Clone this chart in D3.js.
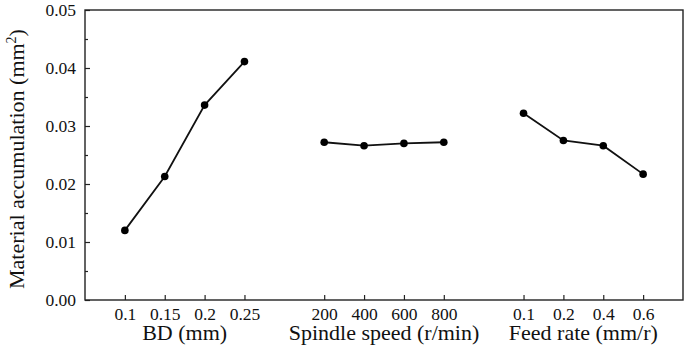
<!DOCTYPE html>
<html>
<head>
<meta charset="utf-8">
<script src="https://cdn.jsdelivr.net/npm/d3@7"></script>
<style>
  body { margin: 0; background: #fff; }
  svg text { font-family: "Liberation Serif", "Times New Roman", Times, serif; fill: #111; }
</style>
</head>
<body>
<div id="chart"></div>
<script>
// factor levels (tick labels) and mean material accumulation
const bdLevels = ["0.1", "0.15", "0.2", "0.25"];
const bdValues = [0.0120, 0.0213, 0.0336, 0.0411];
const speedLevels = ["200", "400", "600", "800"];
const speedValues = [0.0272, 0.0266, 0.0270, 0.0272];
const feedLevels = ["0.1", "0.2", "0.4", "0.6"];
const feedValues = [0.0322, 0.0275, 0.0266, 0.0217];
const factorNames = ["BD (mm)", "Spindle speed (r/min)", "Feed rate (mm/r)"];
const yTicks = [0, 0.01, 0.02, 0.03, 0.04, 0.05];

const serif = '"Liberation Serif", "Times New Roman", Times, serif';
const width = 685, height = 352;
const margin = {top: 10, right: 2, bottom: 52, left: 85};
const w = width - margin.left - margin.right;
const h = height - margin.top - margin.bottom;

// each factor gets 4 slots, with one empty slot between groups
const groups = [
  {name: factorNames[0], levels: bdLevels, values: bdValues},
  {name: factorNames[1], levels: speedLevels, values: speedValues},
  {name: factorNames[2], levels: feedLevels, values: feedValues}
];
groups.forEach((g, gi) => {
  g.points = g.values.map((v, i) => ({slot: gi * 5 + i, label: g.levels[i], value: v}));
});
const allPoints = groups.flatMap(g => g.points);

const svg = d3.select("#chart").append("svg")
  .attr("width", width)
  .attr("height", height);

const chart = svg.append("g")
  .attr("transform", `translate(${margin.left},${margin.top})`);

const x = d3.scaleLinear().domain([-1, 14]).range([0, w]);
const y = d3.scaleLinear().domain([0, 0.05]).range([h, 0]);

// y axis, inward ticks
chart.append("g")
  .call(d3.axisLeft(y).tickValues(yTicks).tickFormat(d3.format(".2f")).tickSize(-5).tickPadding(9));
chart.append("g")
  .call(d3.axisLeft(y).tickValues(d3.range(0.005, 0.05, 0.01)).tickSize(-3).tickFormat(""));

// x axis
chart.append("g")
  .attr("transform", `translate(0,${h})`)
  .call(d3.axisBottom(x)
    .tickValues(allPoints.map(d => d.slot))
    .tickFormat((d, i) => allPoints[i].label)
    .tickSize(-5).tickPadding(8));

chart.selectAll(".domain").remove();
chart.selectAll(".tick line").attr("stroke", "#222").attr("stroke-width", 1.2);
chart.selectAll(".tick text")
  .style("font-family", serif)
  .style("font-size", "17.5px")
  .attr("fill", "#111");

// frame
chart.append("rect")
  .attr("width", w).attr("height", h)
  .attr("fill", "none").attr("stroke", "#222").attr("stroke-width", 1.4);

// factor titles under each group
chart.selectAll(".factor-title")
  .data(groups)
  .enter().append("text")
    .attr("class", "factor-title")
    .attr("text-anchor", "middle")
    .attr("x", (d, i) => x(i * 5 + 1.5))
    .attr("y", h + 40)
    .style("font-family", serif)
    .style("font-size", "22px")
    .text(d => d.name);

// y title
const yTitle = chart.append("text")
  .attr("text-anchor", "middle")
  .attr("transform", `translate(${-margin.left + 24},${h / 2 + 4}) rotate(-90)`)
  .style("font-family", serif)
  .style("font-size", "22px");
yTitle.append("tspan").text("Material accumulation (mm");
yTitle.append("tspan").style("font-size", "14px").attr("dy", -8).text("2");
yTitle.append("tspan").attr("dy", 8).text(")");

// lines and markers
const line = d3.line().x(d => x(d.slot)).y(d => y(d.value));
groups.forEach(g => {
  chart.append("path")
    .datum(g.points)
    .attr("fill", "none")
    .attr("stroke", "#111")
    .attr("stroke-width", 1.8)
    .attr("d", line);
});
chart.selectAll(".dot")
  .data(allPoints)
  .enter().append("circle")
    .attr("class", "dot")
    .attr("cx", d => x(d.slot))
    .attr("cy", d => y(d.value))
    .attr("r", 3.8)
    .attr("fill", "#000");
</script>
</body>
</html>
